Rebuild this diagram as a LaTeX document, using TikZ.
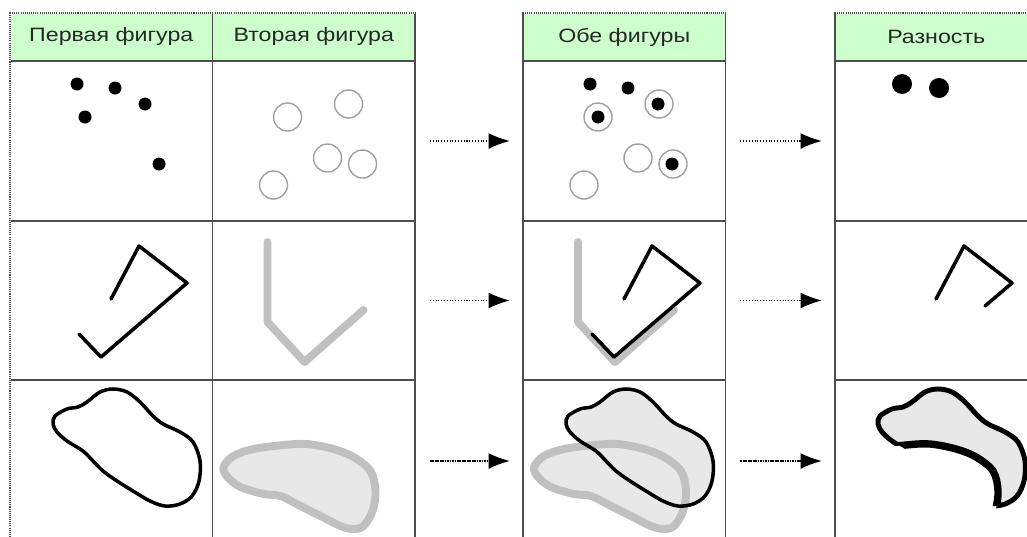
\documentclass[tikz,border=0pt]{standalone}
\usepackage{fontspec}
\newfontfamily\headfont[FakeStretch=1.2]{Liberation Sans}
\usetikzlibrary{positioning,arrows.meta}
\definecolor{frame}{HTML}{4D4D4D}
\definecolor{headgreen}{HTML}{CCFFCC}
\definecolor{ringgray}{HTML}{A0A0A0}
\definecolor{shapegray}{HTML}{C0C0C0}
\definecolor{fillgray}{HTML}{E8E8E8}
\tikzset{
head/.style={
	draw=frame, line width=1.1pt, fill=headgreen, outer sep=0pt, inner sep=0pt,
	minimum width=4.05cm, minimum height=0.96cm,
	font=\headfont\fontsize{11}{13}\selectfont, text=black!85},
cell/.style={
	draw=frame, line width=1.1pt, outer sep=0pt, inner sep=0pt,
	minimum width=4.05cm, minimum height=#1},
edge dots/.style={
	draw=white, line width=1.6pt,
	postaction={draw=frame, line width=1.1pt, dash pattern=on 0.6pt off 0.6pt}},
flow/.style={
	dash pattern=on 0.6pt off 1pt, line width=0.8pt, -{Latex[length=12pt,width=9pt]},
	shorten <=8.5pt, shorten >=7.5pt},
inside/.style={shift={(#1.north west)}, x=0.02cm, y=-0.02cm},
ring/.style={draw=ringgray, line width=0.8pt},
fig/.style={draw=black, line width=2pt, line join=round, line cap=round},
ghost/.style={draw=shapegray, line width=4.5pt, line join=round, line cap=round},
blob a/.style={insert path={plot[smooth cycle, tension=0.55] coordinates {
	(45,36) (57,29) (68,27) (77,22) (90,12) (103,9) (117,12) (130,22) (143,36)
	(153,44) (170,52) (183,62) (190,81) (189,101) (182,116) (170,124) (155,126)
	(140,121) (123,111) (107,101) (93,91) (83,81) (73,71) (57,61) (47,52) (43,44)}}},
blob b/.style={insert path={plot[smooth cycle, tension=0.55] coordinates {
	(11,87) (21,76) (41,69) (71,65) (95,64) (121,69) (141,77) (158,91) (163,111)
	(160,131) (151,146) (141,149) (128,146) (108,136) (88,126) (68,116) (51,114)
	(28,107) (15,97)}}}
}

\begin{document}
\begin{tikzpicture}
	\useasboundingbox (0,0) rectangle (20.54,-10.74);
	\clip (0,0) rectangle (20.54,-10.74);
	\node[head, anchor=north west] (h1) at (0.2,-0.26) {Первая фигура};
	\node[head, right=0pt of h1] (h2) {Вторая фигура};
	\node[head, right=2.16cm of h2] (h3) {Обе фигуры};
	\node[head, right=2.19cm of h3] (h4) {Разность};
	\foreach \c in {1,...,4}{
		\node[cell=3.2cm, below=0pt of h\c] (c\c1) {};
		\node[cell=3.18cm, below=0pt of c\c1] (c\c2) {};
		\node[cell=3.24cm, below=0pt of c\c2] (c\c3) {};
	}
	\draw[edge dots] (h1.north west) -- (h2.north east);
	\draw[edge dots] (h3.north west) -- (h3.north east);
	\draw[edge dots] (h4.north west) -- (h4.north east);
	\draw[edge dots] (h1.north west) -- (c13.south west);

	\foreach \r in {1,2}{
		\draw[flow] (c2\r.east) -- (c3\r.west);
		\draw[flow] (c3\r.east) -- (c4\r.west);
	}
	\draw[flow, dash pattern=on 1pt off 0.4pt] (c23.east) -- (c33.west);
	\draw[flow, dash pattern=on 1pt off 0.4pt] (c33.east) -- (c43.west);

	\begin{scope}[inside=c11]
		\foreach \x/\y in {67/23,105/27,135/43,75/56,149/103}
			\fill (\x,\y) circle (6.5);
	\end{scope}
	\begin{scope}[inside=c21]
		\foreach \x/\y in {75/56,136/43,115/97,150/103,61/124}
			\draw[ring] (\x,\y) circle (14);
	\end{scope}
	\begin{scope}[inside=c31]
		\foreach \x/\y in {75/56,136/43,115/97,150/103,61/124}
			\draw[ring] (\x,\y) circle (14);
		\foreach \x/\y in {67/23,105/27,135/43,75/56,149/103}
			\fill (\x,\y) circle (6.5);
	\end{scope}
	\begin{scope}[inside=c41]
		\foreach \x/\y in {67/23,104/27}
			\fill (\x,\y) circle (10);
	\end{scope}

	\begin{scope}[inside=c12]
		\draw[fig] (101,78) -- (129,25) -- (177,62) -- (91,136) -- (69,113);
	\end{scope}
	\begin{scope}[inside=c22]
		\draw[ghost] (55,21) -- (55,101) -- (92,141) -- (151,89);
	\end{scope}
	\begin{scope}[inside=c32]
		\draw[ghost] (55,21) -- (55,101) -- (92,141) -- (151,89);
		\draw[fig] (101,78) -- (129,25) -- (177,62) -- (91,136) -- (69,113);
	\end{scope}
	\begin{scope}[inside=c42]
		\draw[fig] (101,78) -- (129,25) -- (177,62) -- (150,85);
	\end{scope}

	\begin{scope}[inside=c13]
		\draw[fig, blob a];
	\end{scope}
	\begin{scope}[inside=c23]
		\draw[ghost, fill=fillgray, blob b];
	\end{scope}
	\begin{scope}[inside=c33]
		\fill[fillgray, blob b];
		\fill[fillgray, blob a];
		\draw[ghost, blob b];
		\draw[fig, blob a];
	\end{scope}
	\begin{scope}[inside=c43]
		\draw[fig, line width=2.8pt, fill=fillgray, blob a];
		\fill[white, blob b];
		\begin{scope}
			\clip[blob a];
			\draw[fig, line width=4.2pt, blob b];
		\end{scope}
	\end{scope}
\end{tikzpicture}
\end{document}
